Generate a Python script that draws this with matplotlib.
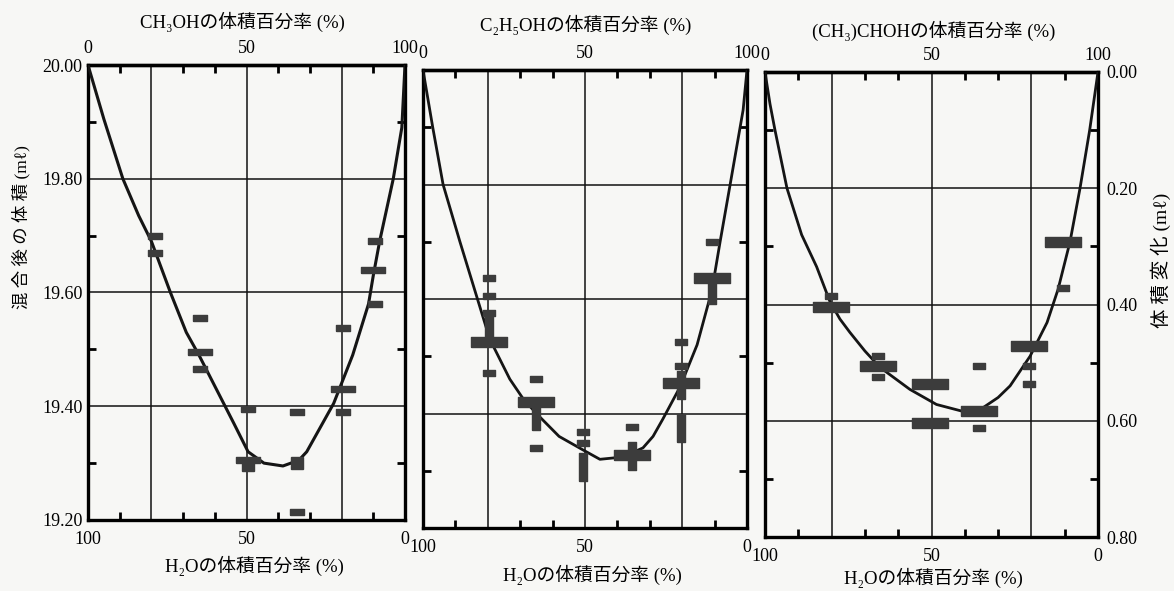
import matplotlib.pyplot as plt

plt.rcParams['font.family'] = ['Liberation Serif', 'DejaVu Serif', 'Noto Sans CJK JP']

# --- data (x = alcohol vol%, y = volume after mixing / volume change)
meoh_curve_x = [0, 5, 11, 16, 20, 26, 31, 35, 40.5, 46, 50.5, 55.5, 61.5, 66.5, 69, 72, 77.5, 83.5, 88.5, 90, 92, 96.3, 99, 100]
meoh_curve_y = [20.00, 19.905, 19.80, 19.735, 19.69, 19.60, 19.53, 19.49, 19.43, 19.37, 19.32, 19.30, 19.295, 19.305,
                19.32, 19.35, 19.405, 19.49, 19.58, 19.63, 19.69, 19.80, 19.89, 20.00]
meoh_small_x = [21, 21, 35.3, 35.3, 50.5, 66, 66, 80.5, 80.5, 90.5, 90.5]
meoh_small_y = [19.70, 19.669, 19.555, 19.465, 19.395, 19.39, 19.214, 19.537, 19.39, 19.58, 19.69]
meoh_wide_x = [35.3, 50.5, 80.5, 90]
meoh_wide_y = [19.496, 19.305, 19.43, 19.64]
meoh_block_x = [50.5, 66]
meoh_block_y = [19.297, 19.30]

etoh_curve_x = [0, 3, 6.2, 11.4, 16, 20.6, 26.8, 31, 35, 42, 49.5, 54.6, 61.7, 67.9, 71, 74, 79.3, 84.6, 89.2, 91.7,
                94.8, 98.8, 100]
etoh_curve_y = [20.00, 19.90, 19.80, 19.70, 19.615, 19.53, 19.46, 19.425, 19.40, 19.36, 19.336, 19.32, 19.324,
                19.34, 19.36, 19.39, 19.446, 19.52, 19.616, 19.70, 19.80, 19.93, 20.00]
etoh_small_x = [20.4, 20.4, 20.4, 20.4, 35, 35, 49.5, 49.5, 64.5, 79.7, 79.7, 89.2]
etoh_small_y = [19.637, 19.605, 19.575, 19.47, 19.46, 19.34, 19.368, 19.348, 19.376, 19.525, 19.483, 19.70]
etoh_wide_x = [20.4, 35, 64.5, 79.7, 89.2]
etoh_wide_y = [19.525, 19.42, 19.327, 19.453, 19.637]
etoh_tall_x = [20.4, 35, 49.5, 64.5, 79.7, 79.7, 89.2]
etoh_tall_y = [19.55, 19.395, 19.307, 19.325, 19.375, 19.45, 19.615]

ipa_curve_x = [0, 1.5, 3, 6.6, 11, 15.5, 19.5, 22.5, 25.5, 30, 34.5, 43.5, 51.5, 59.5, 65.6, 70, 73.6, 79.6, 84.7,
               88, 91.6, 94.6, 97.5, 100]
ipa_curve_y = [0.00, 0.055, 0.10, 0.20, 0.28, 0.335, 0.395, 0.425, 0.448, 0.48, 0.508, 0.546, 0.572, 0.584, 0.577,
               0.56, 0.54, 0.489, 0.431, 0.374, 0.292, 0.20, 0.10, 0.00]
ipa_small_x = [89.5, 19.8, 34, 34, 64.3, 64.3, 79.4, 79.4]
ipa_small_y = [0.371, 0.386, 0.489, 0.525, 0.506, 0.613, 0.505, 0.537]
ipa_wide_x = [89.5, 19.8, 34, 49.5, 49.5, 64.3, 79.4]
ipa_wide_y = [0.292, 0.405, 0.506, 0.536, 0.604, 0.584, 0.472]

vol_ticks = [19.2, 19.4, 19.6, 19.8, 20.0]
vol_minor = [19.3, 19.5, 19.7, 19.9]
chg_ticks = [0.0, 0.2, 0.4, 0.6, 0.8]
chg_minor = [0.1, 0.3, 0.5, 0.7]

titles = ['CH₃OHの体積百分率 (%)', 'C₂H₅OHの体積百分率 (%)', '(CH₃)CHOHの体積百分率 (%)']
bottom_label = 'H₂Oの体積百分率 (%)'

W, H = 1174, 591
fig = plt.figure(figsize=(W / 100, H / 100), dpi=100, facecolor='#f7f7f5')

box_small = [(-1, -0.5), (1, -0.5), (1, 0.5), (-1, 0.5), (-1, -0.5)]
box_wide = [(-1, -0.28), (1, -0.28), (1, 0.28), (-1, 0.28), (-1, -0.28)]
box_tall = [(-0.3, -1), (0.3, -1), (0.3, 1), (-0.3, 1), (-0.3, -1)]
mark_col = '#3c3c3c'


def add_px_axes(l, r, t, b):
    return fig.add_axes([l / W, 1 - b / H, (r - l) / W, (b - t) / H])


def style(ax, ticks, minor):
    ax.set_facecolor('none')
    ax.set_xlim(0, 100)
    ax.set_xticks([0, 20, 50, 80, 100])
    ax.set_xticklabels(['100', '', '50', '', '0'])
    ax.set_xticks([10, 30, 40, 60, 70, 90], minor=True)
    ax.set_yticks(ticks)
    ax.set_yticks(minor, minor=True)
    ax.grid(True, which='major', color='#111111', lw=1.1)
    ax.tick_params(which='major', length=0, labelsize=13, pad=8)
    ax.tick_params(which='minor', direction='in', length=6, width=2,
                   top=True, bottom=True, left=True, right=True)
    for s in ax.spines.values():
        s.set_linewidth(2.4)
    top = ax.secondary_xaxis('top')
    top.set_xticks([0, 50, 100])
    top.set_xticklabels(['0', '50', '100'])
    top.tick_params(length=0, labelsize=13, pad=6)
    top.spines['top'].set_linewidth(2.4)


# panel 1: methanol
ax1 = add_px_axes(88, 405, 65, 520)
style(ax1, vol_ticks, vol_minor)
ax1.set_ylim(19.2, 20.0)
ax1.set_yticklabels(['%.2f' % v for v in vol_ticks])
ax1.tick_params(axis='y', which='major', pad=4)
ax1.plot(meoh_curve_x, meoh_curve_y, color='#151515', lw=2.2, zorder=3)
ax1.plot(meoh_small_x, meoh_small_y, ls='none', marker=box_small, ms=9.5, color=mark_col, zorder=4)
ax1.plot(meoh_wide_x, meoh_wide_y, ls='none', marker=box_wide, ms=17, color=mark_col, zorder=4)
ax1.plot(meoh_block_x, meoh_block_y, ls='none', marker='s', ms=9, color=mark_col, zorder=4)

# panel 2: ethanol
ax2 = add_px_axes(423, 747, 70, 528)
style(ax2, vol_ticks, vol_minor)
ax2.set_ylim(19.2, 20.0)
ax2.tick_params(axis='y', labelleft=False)
ax2.plot(etoh_curve_x, etoh_curve_y, color='#151515', lw=2.0, zorder=3)
ax2.plot(etoh_small_x, etoh_small_y, ls='none', marker=box_small, ms=9, color=mark_col, zorder=4)
ax2.plot(etoh_wide_x, etoh_wide_y, ls='none', marker=box_wide, ms=26, color=mark_col, zorder=4)
ax2.plot(etoh_tall_x, etoh_tall_y, ls='none', marker=box_tall, ms=20, color=mark_col, zorder=4)

# panel 3: isopropanol, volume change on right axis
ax3 = add_px_axes(765, 1098, 72, 537)
style(ax3, chg_ticks, chg_minor)
ax3.set_ylim(0.8, 0.0)
ax3.tick_params(axis='y', labelleft=False, labelright=True, pad=6)
ax3.set_yticklabels(['%.2f' % v for v in chg_ticks])
ax3.plot(ipa_curve_x, ipa_curve_y, color='#151515', lw=2.0, zorder=3)
ax3.plot(ipa_small_x, ipa_small_y, ls='none', marker=box_small, ms=9, color=mark_col, zorder=4)
ax3.plot(ipa_wide_x, ipa_wide_y, ls='none', marker=box_wide, ms=26, color=mark_col, zorder=4)

# titles / axis labels
for cx, cy, t in zip([242, 586, 934], [22, 25, 31], titles):
    fig.text(cx / W, 1 - cy / H, t, ha='center', va='center', fontsize=13.5)
for cx, cy in zip([254, 592, 933], [566, 575, 578]):
    fig.text(cx / W, 1 - cy / H, bottom_label, ha='center', va='center', fontsize=13.5)
fig.text(21 / W, 1 - 227 / H, '混 合 後 の 体 積 (mℓ)', rotation=90, ha='center', va='center', fontsize=12.5)
fig.text(1161 / W, 1 - 260 / H, '体 積 変 化 (mℓ)', rotation=90, ha='center', va='center', fontsize=14)

fig.savefig('out.png', dpi=100, facecolor=fig.get_facecolor())
